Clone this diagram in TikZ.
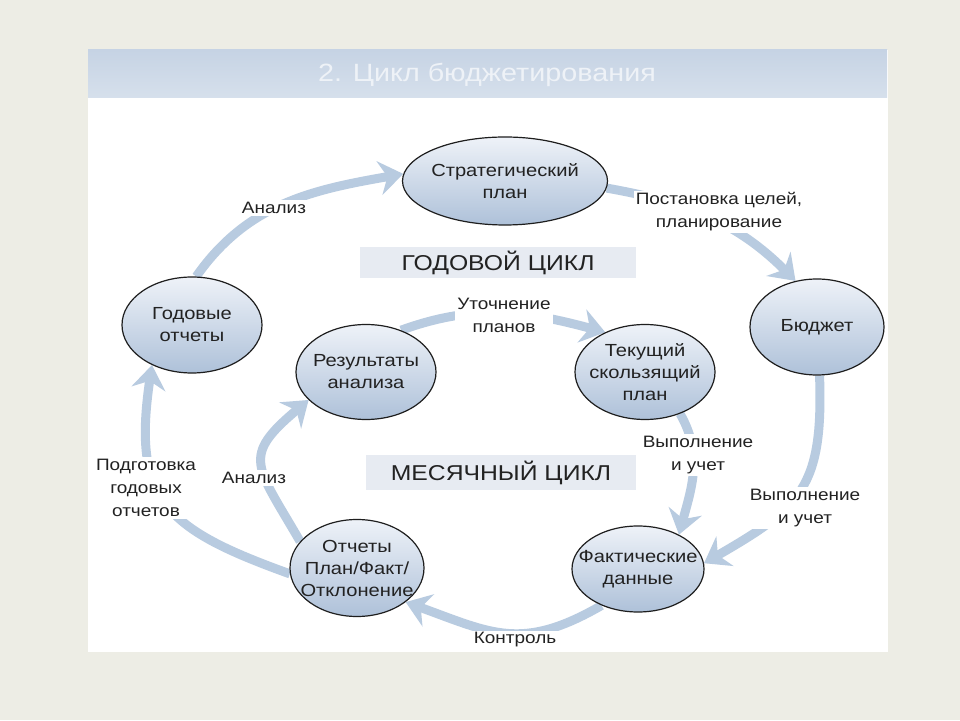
\documentclass[tikz,border=0pt]{standalone}
\usepackage{fontspec}
\setmainfont{Liberation Sans}[FakeStretch=1.15]
\usetikzlibrary{arrows.meta,shapes.geometric}
\pgfdeclarelayer{bgl}
\pgfdeclarelayer{arr}
\pgfsetlayers{bgl,arr,main}
\definecolor{outerbg}{HTML}{EDEDE5}
\definecolor{flowc}{HTML}{B8CBE0}
\definecolor{edgec}{HTML}{1E1E1E}
\definecolor{txtc}{HTML}{222222}
\definecolor{cycfill}{HTML}{E7EBF2}
\definecolor{elltop}{HTML}{EEF2F8}
\definecolor{ellbot}{HTML}{AEC1D9}
\definecolor{bartop}{HTML}{C6D3E4}
\definecolor{barmid}{HTML}{9EB3CF}
\definecolor{barbot}{HTML}{D6E0EC}
\definecolor{titlec}{HTML}{EEF2F7}
\begin{document}
\begin{tikzpicture}[x=1pt,y=1pt,
  stage/.style={ellipse, draw=edgec, line width=1.2pt, top color=elltop, bottom color=ellbot, inner sep=0pt},
  stxt/.style={align=center, text=txtc, inner sep=0pt, font=\fontsize{17.5}{22}\selectfont},
  flow/.style={draw=flowc, line width=9pt, -{Stealth[length=24pt,width=34pt,inset=8pt]}},
  lbl/.style={fill=white, inner sep=2pt, align=center, text=txtc, font=\fontsize{16.5}{23}\selectfont},
  cyc/.style={fill=cycfill, inner sep=0pt, text=txtc, font=\fontsize{21.5}{25}\selectfont},
]
\useasboundingbox (0,0) rectangle (960,720);
\begin{pgfonlayer}{bgl}
\fill[outerbg] (0,0) rectangle (960,720);
\fill[white] (88,68) rectangle (888,670);
\shade[top color=bartop, middle color=barmid, bottom color=barbot] (88,622) rectangle (887,670);
\end{pgfonlayer}
\node[font=\fontsize{25}{29}\selectfont, text=titlec] (title) at (487,645) {2. Цикл бюджетирования};

% stages
\node[stage, minimum width=205pt, minimum height=88pt] (sp) at (505,539) {};
\node[stxt] (spt) at (sp) {Стратегический\\план};
\node[stage, minimum width=134pt, minimum height=96pt] (bu) at (817,393) {};
\node[stxt] (but) at (bu) {Бюджет};
\node[stage, minimum width=140pt, minimum height=96pt] (go) at (192,395) {};
\node[stxt] (got) at (go) {Годовые\\отчеты};
\node[stage, minimum width=140pt, minimum height=95pt] (re) at (366,348) {};
\node[stxt] (ret) at (re) {Результаты\\анализа};
\node[stage, minimum width=140pt, minimum height=95pt] (tp) at (645,348) {};
\node[stxt] (tpt) at (tp) {Текущий\\скользящий\\план};
\node[stage, minimum width=132pt, minimum height=86pt] (fd) at (638,151) {};
\node[stxt] (fdt) at (fd) {Фактические\\данные};
\node[stage, minimum width=134pt, minimum height=97pt] (ot) at (357,152) {};
\node[stxt] (ott) at (ot) {Отчеты\\План/Факт/\\Отклонение};

% cycle captions
\node[cyc, minimum width=276pt, minimum height=31pt] (yc) at (498,457.5) {ГОДОВОЙ ЦИКЛ};
\node[cyc, minimum width=270pt, minimum height=35pt] (mc) at (501,247.5) {МЕСЯЧНЫЙ ЦИКЛ};

% arrows
\begin{pgfonlayer}{arr}
\draw[flow] (go.85) to[out=55,in=190] (sp.176);
\draw[flow] (sp.-4) to[out=-10,in=135] (bu.115);
\draw[flow] (bu.-87) to[out=-88,in=30,looseness=1.3] (fd.5);
\draw[flow] (fd.-135) to[out=-150,in=-20,looseness=1.2] (ot.-35);
\draw[flow] (ot.185) .. controls +(-125,45) and +(-20,-135) .. (go.-135);
\draw[flow] (ot.155) to[out=120,in=-140,looseness=1.6] (re.-154);
\draw[flow] (re.50) to[out=20,in=165] (tp.135);
\draw[flow] (tp.-50) to[out=-60,in=75] (fd.40);
\end{pgfonlayer}

% labels
\node[lbl] (l1) at (274,512) {Анализ};
\node[lbl] (l2) at (719,508) {Постановка целей,\\планирование};
\node[lbl] (l3) at (504,405) {Уточнение\\планов};
\node[lbl] (l4) at (698,265) {Выполнение\\и учет};
\node[lbl] (l5) at (805,212) {Выполнение\\и учет};
\node[lbl] (l6) at (146,232) {Подготовка\\годовых\\отчетов};
\node[lbl] (l7) at (254,242) {Анализ};
\node[lbl] (l8) at (515,80) {Контроль};
\end{tikzpicture}
\end{document}
